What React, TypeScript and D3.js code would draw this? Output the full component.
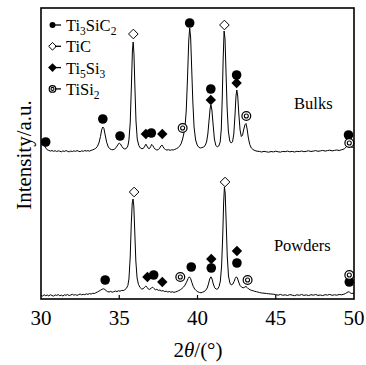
import React from 'react';
import * as d3 from 'd3';

// ---------- data ----------
const xTicks = [30, 35, 40, 45, 50];

// [2θ (deg), intensity (a.u., stacked)]
const bulksPattern: [number, number][] = [
  [30.00,1540],[30.08,1552],[30.16,1548],[30.24,1530],[30.32,1508],[30.40,1492],[30.50,1486],[30.60,1479],[30.70,1485],[30.80,1477],
  [30.90,1483],[31.00,1475],[31.10,1482],[31.20,1478],[31.30,1472],[31.40,1481],[31.50,1476],[31.60,1484],[31.70,1477],[31.80,1471],
  [31.90,1480],[32.00,1474],[32.10,1482],[32.20,1476],[32.30,1484],[32.40,1478],[32.50,1473],[32.60,1482],[32.70,1477],[32.80,1485],
  [32.90,1479],[33.00,1484],[33.10,1478],[33.20,1487],[33.30,1491],[33.40,1498],[33.50,1507],[33.60,1525],[33.70,1560],[33.80,1625],
  [33.88,1695],[33.95,1720],[34.02,1705],[34.10,1640],[34.20,1565],[34.30,1520],[34.40,1502],[34.50,1494],[34.60,1492],[34.70,1500],
  [34.80,1514],[34.90,1540],[35.00,1560],[35.08,1550],[35.16,1527],[35.25,1508],[35.35,1500],[35.45,1505],[35.55,1530],[35.62,1590],
  [35.70,1760],[35.78,2150],[35.84,2480],[35.89,2570],[35.94,2450],[36.00,2120],[36.07,1780],[36.15,1600],[36.25,1535],[36.35,1510],
  [36.45,1502],[36.55,1508],[36.63,1528],[36.70,1548],[36.77,1530],[36.85,1508],[36.93,1504],[37.00,1522],[37.07,1546],[37.14,1535],
  [37.22,1512],[37.30,1498],[37.40,1490],[37.50,1494],[37.58,1508],[37.66,1530],[37.73,1540],[37.80,1522],[37.88,1503],[37.96,1494],
  [38.05,1489],[38.15,1493],[38.25,1487],[38.35,1492],[38.45,1490],[38.55,1496],[38.65,1503],[38.75,1512],[38.85,1528],[38.95,1552],
  [39.05,1600],[39.12,1650],[39.20,1720],[39.28,1880],[39.36,2200],[39.44,2580],[39.50,2710],[39.56,2620],[39.63,2300],[39.70,1980],
  [39.78,1720],[39.88,1590],[39.98,1540],[40.08,1518],[40.18,1510],[40.28,1514],[40.38,1520],[40.48,1532],[40.58,1570],[40.66,1650],
  [40.74,1790],[40.81,1910],[40.86,1940],[40.92,1890],[41.00,1740],[41.08,1600],[41.17,1535],[41.27,1522],[41.36,1530],[41.45,1570],
  [41.52,1700],[41.58,2000],[41.64,2400],[41.70,2680],[41.76,2600],[41.82,2280],[41.89,1920],[41.97,1680],[42.06,1580],[42.15,1560],
  [42.24,1572],[42.32,1650],[42.40,1850],[42.46,2030],[42.51,2090],[42.57,2030],[42.64,1850],[42.72,1690],[42.80,1625],[42.88,1640],
  [42.96,1700],[43.04,1745],[43.10,1755],[43.17,1700],[43.25,1610],[43.34,1545],[43.44,1510],[43.55,1494],[43.68,1484],[43.80,1478],
  [43.95,1476],[44.10,1470],[44.25,1477],[44.40,1472],[44.55,1468],[44.70,1475],[44.85,1471],[45.00,1478],[45.15,1472],[45.30,1469],
  [45.45,1476],[45.60,1473],[45.75,1479],[45.90,1472],[46.05,1476],[46.20,1470],[46.35,1477],[46.50,1474],[46.65,1480],[46.80,1473],
  [46.95,1477],[47.10,1482],[47.25,1475],[47.40,1479],[47.55,1484],[47.70,1477],[47.85,1481],[48.00,1486],[48.15,1479],[48.30,1484],
  [48.45,1488],[48.60,1481],[48.75,1486],[48.90,1490],[49.05,1485],[49.20,1492],[49.30,1496],[49.40,1504],[49.50,1520],[49.58,1540],
  [49.65,1550],[49.72,1538],[49.80,1522],[49.90,1515],[50.00,1520],
];

const powdersPattern: [number, number][] = [
  [30.00,38],[30.10,30],[30.20,42],[30.30,34],[30.40,40],[30.50,31],[30.60,43],[30.70,35],[30.80,29],[30.90,41],
  [31.00,36],[31.10,44],[31.20,33],[31.30,39],[31.40,30],[31.50,42],[31.60,37],[31.70,45],[31.80,34],[31.90,40],
  [32.00,47],[32.10,38],[32.20,44],[32.30,36],[32.40,43],[32.50,50],[32.60,41],[32.70,47],[32.80,43],[32.90,52],
  [33.00,46],[33.10,54],[33.20,49],[33.30,57],[33.40,55],[33.50,62],[33.60,70],[33.70,78],[33.80,88],[33.90,97],
  [34.00,102],[34.08,96],[34.16,84],[34.25,74],[34.35,70],[34.45,76],[34.55,68],[34.65,73],[34.75,80],[34.85,74],
  [34.95,82],[35.05,78],[35.15,86],[35.25,84],[35.35,92],[35.45,105],[35.55,135],[35.62,200],[35.70,420],[35.77,760],
  [35.83,960],[35.88,1000],[35.93,930],[35.99,680],[36.06,380],[36.14,210],[36.23,145],[36.33,115],[36.43,100],[36.53,102],
  [36.62,118],[36.70,130],[36.78,116],[36.86,100],[36.95,96],[37.05,110],[37.14,118],[37.22,104],[37.31,92],[37.40,97],
  [37.50,86],[37.60,90],[37.70,80],[37.80,84],[37.90,74],[38.00,78],[38.10,70],[38.20,75],[38.30,68],[38.40,72],
  [38.50,66],[38.60,71],[38.70,76],[38.80,84],[38.90,92],[39.00,104],[39.10,118],[39.20,138],[39.30,168],[39.40,205],
  [39.48,222],[39.56,205],[39.64,165],[39.73,125],[39.82,100],[39.92,84],[40.02,72],[40.12,66],[40.22,62],[40.32,68],
  [40.42,74],[40.52,86],[40.62,110],[40.70,150],[40.78,200],[40.86,222],[40.93,200],[41.01,150],[41.10,112],[41.20,98],
  [41.30,102],[41.38,125],[41.46,180],[41.54,330],[41.61,620],[41.67,960],[41.72,1120],[41.77,1060],[41.83,780],[41.90,430],
  [41.98,230],[42.07,160],[42.16,140],[42.25,148],[42.33,172],[42.41,205],[42.48,222],[42.55,210],[42.63,170],[42.72,135],
  [42.82,118],[42.92,112],[43.02,118],[43.10,126],[43.18,114],[43.27,100],[43.37,92],[43.47,85],[43.57,82],[43.67,76],
  [43.77,73],[43.87,68],[43.97,65],[44.10,60],[44.25,58],[44.40,55],[44.55,52],[44.70,50],[44.85,48],[45.00,44],
  [45.15,38],[45.30,46],[45.45,37],[45.60,42],[45.75,35],[45.90,44],[46.05,39],[46.20,33],[46.35,42],[46.50,37],
  [46.65,45],[46.80,36],[46.95,41],[47.10,34],[47.25,43],[47.40,38],[47.55,45],[47.70,36],[47.85,40],[48.00,34],
  [48.15,43],[48.30,39],[48.45,46],[48.60,37],[48.75,42],[48.90,38],[49.05,45],[49.20,42],[49.35,48],[49.45,55],
  [49.55,64],[49.63,72],[49.70,70],[49.78,60],[49.86,55],[49.94,58],[50.00,52],
];

// phase marker positions [2θ, intensity]
const ti3sic2Marks: [number, number][] = [
  [30.3,1570],[33.95,1800],[35.05,1630],[37.05,1660],[39.5,2760],[40.85,2100],[42.5,2240],[49.65,1640],
  [34.1,190],[37.2,240],[39.6,320],[40.88,310],[42.52,360],[49.7,170],
];
const ticMarks: [number, number][] = [
  [35.9,2650],[41.72,2740],
  [35.95,1070],[41.76,1170],
];
const ti5si3Marks: [number, number][] = [
  [36.7,1650],[37.75,1650],[40.85,1990],[42.5,2160],
  [36.8,220],[37.75,170],[40.88,400],[42.52,480],
];
const tisi2Marks: [number, number][] = [
  [39.05,1710],[43.12,1830],[49.7,1560],
  [38.9,220],[43.2,190],[49.7,240],
];

const legendKeys = ['Ti3SiC2', 'TiC', 'Ti5Si3', 'TiSi2'];
const legendLabels: [string, boolean][][] = [
  [['Ti', false], ['3', true], ['SiC', false], ['2', true]],
  [['TiC', false]],
  [['Ti', false], ['5', true], ['Si', false], ['3', true]],
  [['TiSi', false], ['2', true]],
];

const sampleLabels = [
  { text: 'Bulks', theta: 47.4, value: 1900 },
  { text: 'Powders', theta: 46.7, value: 480 },
];

// ---------- chart ----------
const W = 366, H = 365;
const plot = { left: 41, right: 354, top: 8, bottom: 299 };
const FONT = "'Liberation Serif', 'Times New Roman', serif";

const x = d3.scaleLinear().domain([30, 50]).range([plot.left, plot.right]);
const y = d3.scaleLinear().domain([0, 2910]).range([plot.bottom, plot.top]);

const line = d3.line<[number, number]>().x(d => x(d[0])).y(d => y(d[1]));

function Marker({ kind, cx, cy, s = 1 }: { kind: string; cx: number; cy: number; s?: number }) {
  if (kind === 'Ti3SiC2') return <circle cx={cx} cy={cy} r={4.8 * s} fill="#000" />;
  if (kind === 'TiC') {
    const r = 4.8 * s;
    return <path d={`M${cx},${cy - r}L${cx + r},${cy}L${cx},${cy + r}L${cx - r},${cy}Z`} fill="#fff" stroke="#000" strokeWidth={1} />;
  }
  if (kind === 'Ti5Si3') {
    const r = 5.2 * s;
    return <path d={`M${cx},${cy - r}L${cx + r},${cy}L${cx},${cy + r}L${cx - r},${cy}Z`} fill="#000" />;
  }
  return (
    <g>
      <circle cx={cx} cy={cy} r={4.4 * s} fill="#fff" stroke="#000" strokeWidth={1.2} />
      <circle cx={cx} cy={cy} r={2 * s} fill="none" stroke="#000" strokeWidth={1.1} />
    </g>
  );
}

export default function App() {
  const markSets: [string, [number, number][]][] = [
    ['Ti3SiC2', ti3sic2Marks],
    ['TiC', ticMarks],
    ['Ti5Si3', ti5si3Marks],
    ['TiSi2', tisi2Marks],
  ];
  const legendScale = [0.62, 0.8, 0.85, 0.75];
  return (
    <svg width={W} height={H} style={{ position: 'absolute', left: 0, top: 0, background: '#fff' }} fontFamily={FONT}>
      <rect x={0} y={0} width={W} height={H} fill="#fff" />
      <path d={line(bulksPattern) || ''} fill="none" stroke="#000" strokeWidth={1} />
      <path d={line(powdersPattern) || ''} fill="none" stroke="#000" strokeWidth={1} />

      {markSets.map(([kind, pts]) =>
        pts.map((p, i) => <Marker key={kind + i} kind={kind} cx={x(p[0])} cy={y(p[1])} />)
      )}

      {/* frame */}
      <rect x={plot.left} y={plot.top} width={plot.right - plot.left} height={plot.bottom - plot.top}
        fill="none" stroke="#000" strokeWidth={1.6} />
      {xTicks.filter(t => t > 30 && t < 50).map(t => (
        <line key={t} x1={x(t)} x2={x(t)} y1={plot.bottom} y2={plot.bottom - 4} stroke="#000" strokeWidth={1.2} />
      ))}
      {xTicks.map(t => (
        <text key={'l' + t} x={x(t)} y={325} fontSize={21} textAnchor="middle">{t}</text>
      ))}
      <text x={198} y={357} fontSize={21} textAnchor="middle">
        2<tspan fontStyle="italic">θ</tspan>/(°)
      </text>
      <text transform="rotate(-90)" x={-155} y={31} fontSize={21} textAnchor="middle">Intensity/a.u.</text>

      {/* legend */}
      {legendKeys.map((k, i) => {
        const cy = 25 + i * 21.3;
        return (
          <g key={k}>
            <Marker kind={k} cx={52.5} cy={cy} s={legendScale[i]} />
            <line x1={55} x2={61} y1={cy} y2={cy} stroke="#000" strokeWidth={1.3} />
            <text x={66} y={cy + 6} fontSize={16.5}>
              {legendLabels[i].map(([t, sub], j) => (
                <tspan key={j} fontSize={sub ? 11.5 : 16.5} dy={sub ? 4 : (j > 0 && legendLabels[i][j - 1][1] ? -4 : 0)}>{t}</tspan>
              ))}
            </text>
          </g>
        );
      })}

      {sampleLabels.map(l => (
        <text key={l.text} x={x(l.theta)} y={y(l.value)} fontSize={16.5} textAnchor="middle">{l.text}</text>
      ))}
    </svg>
  );
}
